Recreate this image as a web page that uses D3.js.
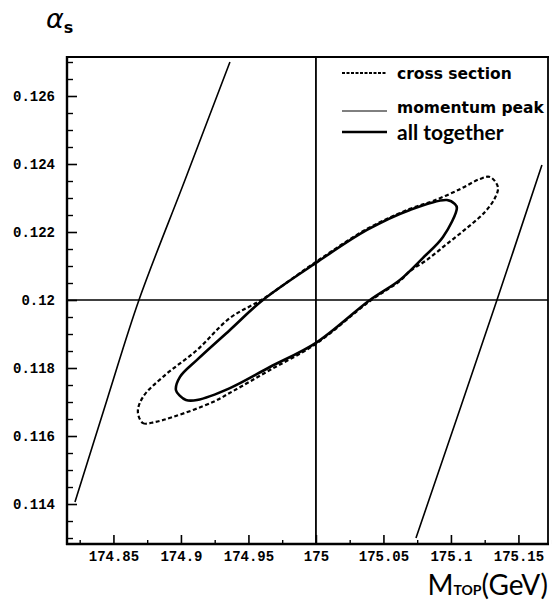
<!DOCTYPE html>
<html>
<head>
<meta charset="utf-8">
<script src="https://cdn.jsdelivr.net/npm/d3@7"></script>
<style>
  html, body { margin: 0; padding: 0; background: #fff; }
  svg { display: block; }
  .tick text { font-family: 'Liberation Mono', 'DejaVu Sans Mono', monospace; font-weight: bold; font-size: 14px; }
</style>
</head>
<body>
<svg id="chart" width="552" height="600"></svg>
<script>
// ---------- data ----------
const xDomain = [174.8156, 175.1719];
const yDomain = [0.112824, 0.127147];

const xTicks = [174.85, 174.9, 174.95, 175, 175.05, 175.1, 175.15];
const xTickLabels = ["174.85", "174.9", "174.95", "175", "175.05", "175.1", "175.15"];
const xMinorTicks = [174.825, 174.875, 174.925, 174.975, 175.025, 175.075, 175.125, 175.175];

const yTicks = [0.114, 0.116, 0.118, 0.12, 0.122, 0.124, 0.126];
const yTickLabels = ["0.114", "0.116", "0.118", "0.12", "0.122", "0.124", "0.126"];
const yMinorTicks = [0.113, 0.1135, 0.1145, 0.115, 0.1155, 0.1165, 0.117, 0.1175, 0.1185, 0.119, 0.1195,
  0.1205, 0.121, 0.1215, 0.1225, 0.123, 0.1235, 0.1245, 0.125, 0.1255, 0.1265, 0.127];

const refMass = 175;
const refAlpha = 0.12;

// momentum peak: two bands
const momentumLeft = [[174.8215, 0.11406], [174.8452, 0.11706], [174.8689, 0.12], [174.9030, 0.12353], [174.9363, 0.1270]];
const momentumRight = [[175.0741, 0.1130], [175.1341, 0.1200], [175.1674, 0.12397]];

// cross section contour (dashed)
const crossSection = [
  [174.8681, 0.11671], [174.8719, 0.11638], [174.8807, 0.11641], [174.8941, 0.11656], [174.9237, 0.11700],
  [174.9385, 0.11732], [174.9659, 0.11794], [175.0000, 0.11871], [175.0400, 0.11997], [175.0622, 0.12056],
  [175.0696, 0.12085], [175.0822, 0.12118], [175.0970, 0.12165], [175.1119, 0.12212], [175.1252, 0.12259],
  [175.1326, 0.12300], [175.1348, 0.12332], [175.1289, 0.12362], [175.1215, 0.12356], [175.1067, 0.12326],
  [175.0867, 0.12291], [175.0696, 0.12268], [175.0378, 0.12209], [175.0000, 0.12112], [174.9607, 0.12003],
  [174.9363, 0.11947], [174.9119, 0.11853], [174.8867, 0.11774], [174.8719, 0.11715]
];

// all together contour (solid)
const allTogether = [
  [174.8963, 0.11735], [174.8993, 0.11718], [174.9037, 0.11706], [174.9119, 0.11706], [174.9363, 0.11741],
  [174.9659, 0.11803], [175.0000, 0.11874], [175.0400, 0.12000], [175.0622, 0.12059], [175.0793, 0.12124],
  [175.0941, 0.12185], [175.1044, 0.12271], [175.1030, 0.12282], [175.0970, 0.12294], [175.0696, 0.12265],
  [175.0378, 0.12206], [175.0000, 0.12109], [174.9607, 0.12000], [174.9363, 0.11912], [174.9119, 0.11824],
  [174.8993, 0.11774]
];

const legendLabels = ["cross section", "momentum peak", "all together"];

// ---------- drawing ----------
const svg = d3.select("#chart");
const pL = 67, pR = 548, pT = 57, pB = 544;
const x = d3.scaleLinear().domain(xDomain).range([pL, pR]);
const y = d3.scaleLinear().domain(yDomain).range([pB, pT]);

// axes: major ticks with labels
const xAxis = d3.axisBottom(x).tickValues(xTicks).tickFormat((d, i) => xTickLabels[i])
  .tickSizeInner(-9).tickSizeOuter(0).tickPadding(7);
const gx = svg.append("g").attr("transform", `translate(0,${pB})`).call(xAxis);
gx.select(".domain").remove();
gx.selectAll("line").attr("stroke", "#000").attr("stroke-width", 1.6);
gx.selectAll("text").attr("fill", "#000");

const xAxisMinor = d3.axisBottom(x).tickValues(xMinorTicks).tickFormat("").tickSizeInner(-4).tickSizeOuter(0);
const gxm = svg.append("g").attr("transform", `translate(0,${pB})`).call(xAxisMinor);
gxm.select(".domain").remove();
gxm.selectAll("line").attr("stroke", "#000").attr("stroke-width", 1.4);

const yAxis = d3.axisLeft(y).tickValues(yTicks).tickFormat((d, i) => yTickLabels[i])
  .tickSizeInner(-10).tickSizeOuter(0).tickPadding(12);
const gy = svg.append("g").attr("transform", `translate(${pL},0)`).call(yAxis);
gy.select(".domain").remove();
gy.selectAll("line").attr("stroke", "#000").attr("stroke-width", 1.6);
gy.selectAll("text").attr("fill", "#000");

const yAxisMinor = d3.axisLeft(y).tickValues(yMinorTicks).tickFormat("").tickSizeInner(-6).tickSizeOuter(0);
const gym = svg.append("g").attr("transform", `translate(${pL},0)`).call(yAxisMinor);
gym.select(".domain").remove();
gym.selectAll("line").attr("stroke", "#000").attr("stroke-width", 1.4);

// frame
svg.append("line").attr("x1", pL).attr("x2", pL).attr("y1", pT - 1).attr("y2", pB + 1)
  .attr("stroke", "#000").attr("stroke-width", 2.4);
svg.append("line").attr("x1", pL - 1).attr("x2", pR + 1).attr("y1", pB).attr("y2", pB)
  .attr("stroke", "#000").attr("stroke-width", 2.4);
svg.append("line").attr("x1", pL - 1).attr("x2", pR + 1).attr("y1", pT).attr("y2", pT)
  .attr("stroke", "#000").attr("stroke-width", 2.2);
svg.append("line").attr("x1", pR).attr("x2", pR).attr("y1", pT - 1).attr("y2", pB + 1)
  .attr("stroke", "#000").attr("stroke-width", 1.8);

// reference lines
svg.append("line").attr("x1", x(refMass)).attr("x2", x(refMass)).attr("y1", pT).attr("y2", pB)
  .attr("stroke", "#000").attr("stroke-width", 1.8);
svg.append("line").attr("x1", pL).attr("x2", pR).attr("y1", y(refAlpha)).attr("y2", y(refAlpha))
  .attr("stroke", "#000").attr("stroke-width", 1.6);

// curves
const openLine = d3.line().x(d => x(d[0])).y(d => y(d[1])).curve(d3.curveCatmullRom.alpha(0.5));
const closedLine = d3.line().x(d => x(d[0])).y(d => y(d[1])).curve(d3.curveCatmullRomClosed.alpha(0.5));

[momentumLeft, momentumRight].forEach(s => {
  svg.append("path").attr("d", openLine(s)).attr("fill", "none").attr("stroke", "#000").attr("stroke-width", 1.6);
});
svg.append("path").attr("d", closedLine(allTogether)).attr("fill", "none").attr("stroke", "#000")
  .attr("stroke-width", 2.6).attr("stroke-linejoin", "round");
svg.append("path").attr("d", closedLine(crossSection)).attr("fill", "none").attr("stroke", "#000")
  .attr("stroke-width", 2.2).attr("stroke-dasharray", "4,2.5");

// legend
const smallFont = "'DejaVu Sans', sans-serif";
const bigFont = "'Lato', 'Noto Sans', sans-serif";
const lx1 = 342, lx2 = 387, ltx = 397;
const leg = svg.append("g");
leg.append("line").attr("x1", lx1).attr("x2", lx2).attr("y1", 73).attr("y2", 73)
  .attr("stroke", "#000").attr("stroke-width", 2.2).attr("stroke-dasharray", "3,1.5");
leg.append("text").attr("x", ltx).attr("y", 79).text(legendLabels[0])
  .attr("font-family", smallFont).attr("font-weight", "bold").attr("font-size", 15.5);
leg.append("line").attr("x1", lx1).attr("x2", lx2).attr("y1", 111).attr("y2", 111)
  .attr("stroke", "#000").attr("stroke-width", 1);
leg.append("text").attr("x", ltx).attr("y", 113).text(legendLabels[1])
  .attr("font-family", smallFont).attr("font-weight", "bold").attr("font-size", 15.5);
leg.append("line").attr("x1", lx1).attr("x2", lx2).attr("y1", 132).attr("y2", 132)
  .attr("stroke", "#000").attr("stroke-width", 2.6);
leg.append("text").attr("x", ltx).attr("y", 140).text(legendLabels[2])
  .attr("font-family", bigFont).attr("font-weight", "bold").attr("font-size", 21);

// axis titles
const tY = svg.append("text").attr("x", 46).attr("y", 28).attr("font-family", "'DejaVu Sans', sans-serif");
tY.append("tspan").text("α").attr("font-size", 27).attr("font-style", "italic");
tY.append("tspan").text("s").attr("font-size", 16).attr("font-weight", "bold").attr("dy", 5);

const tX = svg.append("text").attr("x", 548).attr("y", 595).attr("text-anchor", "end")
  .attr("font-family", "'Lato', 'DejaVu Sans', sans-serif");
tX.append("tspan").text("M").attr("font-size", 28);
tX.append("tspan").text("TOP").attr("font-size", 14).attr("font-weight", "bold");
tX.append("tspan").text("(GeV)").attr("font-size", 28);
</script>
</body>
</html>
